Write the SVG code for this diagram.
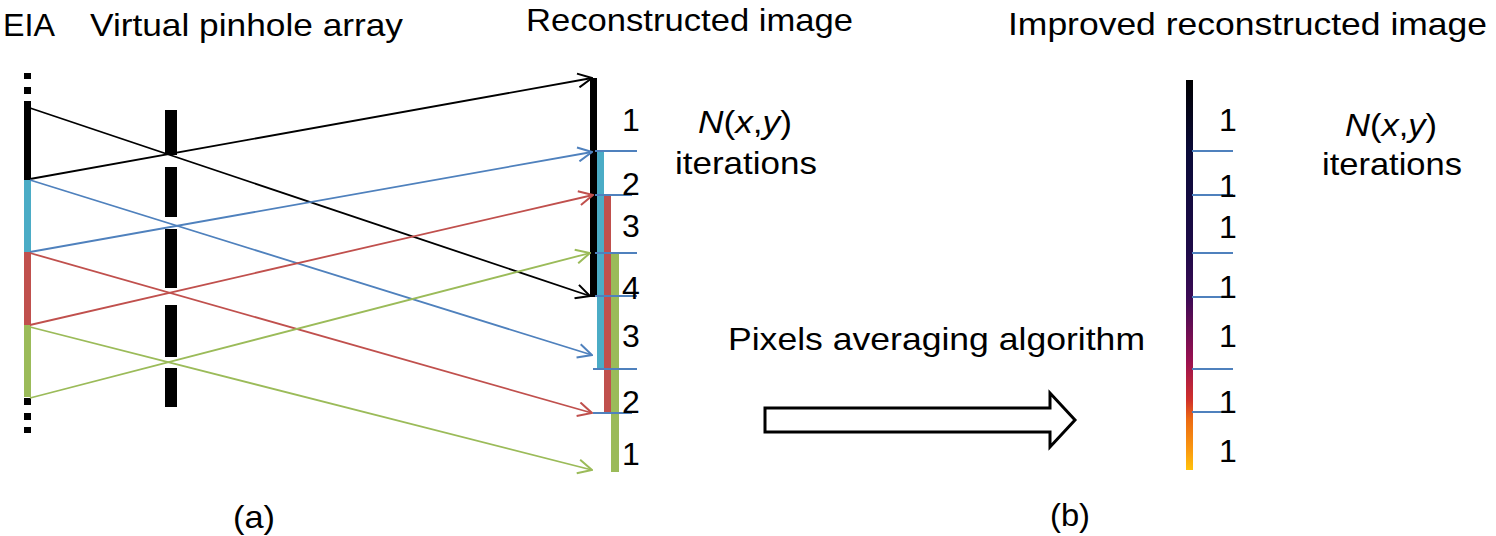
<svg xmlns="http://www.w3.org/2000/svg" width="1496" height="536" viewBox="0 0 1496 536">
<style>
text{font-family:"Liberation Sans",Arial,sans-serif;font-size:32px;fill:#000}
.num{font-size:32px}
.ray{fill:none;stroke-width:1.8}
.k{stroke:#000}
.b{stroke:#4f81bd}
.r{stroke:#c0504d}
.g{stroke:#9bbb59}
.tick{stroke:#4f81bd;stroke-width:2}
</style>
<defs>
<marker id="ak" viewBox="0 0 16 16" refX="15" refY="8" markerWidth="16" markerHeight="16" markerUnits="userSpaceOnUse" orient="auto"><path d="M1,1 L15,8 L1,15" fill="none" stroke="#000" stroke-width="2"/></marker>
<marker id="ab" viewBox="0 0 16 16" refX="15" refY="8" markerWidth="16" markerHeight="16" markerUnits="userSpaceOnUse" orient="auto"><path d="M1,1 L15,8 L1,15" fill="none" stroke="#4f81bd" stroke-width="2"/></marker>
<marker id="ar" viewBox="0 0 16 16" refX="15" refY="8" markerWidth="16" markerHeight="16" markerUnits="userSpaceOnUse" orient="auto"><path d="M1,1 L15,8 L1,15" fill="none" stroke="#c0504d" stroke-width="2"/></marker>
<marker id="ag" viewBox="0 0 16 16" refX="15" refY="8" markerWidth="16" markerHeight="16" markerUnits="userSpaceOnUse" orient="auto"><path d="M1,1 L15,8 L1,15" fill="none" stroke="#9bbb59" stroke-width="2"/></marker>
<linearGradient id="grad" x1="0" y1="0" x2="0" y2="1">
<stop offset="0" stop-color="#000000"/>
<stop offset="0.18" stop-color="#0a0a38"/>
<stop offset="0.44" stop-color="#1e0a48"/>
<stop offset="0.56" stop-color="#3c0a55"/>
<stop offset="0.72" stop-color="#9a1050"/>
<stop offset="0.82" stop-color="#d0302a"/>
<stop offset="0.87" stop-color="#ec6a12"/>
<stop offset="0.95" stop-color="#fa9a10"/>
<stop offset="1" stop-color="#ffc20a"/>
</linearGradient>
</defs>
<rect width="1496" height="536" fill="#fff"/>

<g id="titles">
<text x="3" y="36" textLength="52" lengthAdjust="spacingAndGlyphs">EIA</text>
<text x="90" y="36" textLength="313" lengthAdjust="spacingAndGlyphs">Virtual pinhole array</text>
<text x="526" y="31" textLength="327" lengthAdjust="spacingAndGlyphs">Reconstructed image</text>
<text x="1008" y="35" textLength="479" lengthAdjust="spacingAndGlyphs">Improved reconstructed image</text>
</g>

<g id="eia">
<rect x="24" y="73" width="7" height="6" fill="#000"/>
<rect x="24" y="87" width="7" height="7" fill="#000"/>
<rect x="24" y="101" width="7" height="79" fill="#000"/>
<rect x="24" y="180" width="7" height="72" fill="#4bacc6"/>
<rect x="24" y="252" width="7" height="73" fill="#c0504d"/>
<rect x="24" y="325" width="7" height="72" fill="#9bbb59"/>
<rect x="24" y="398" width="7" height="7" fill="#000"/>
<rect x="24" y="413" width="7" height="7" fill="#000"/>
<rect x="24" y="427" width="7" height="6" fill="#000"/>
</g>

<g id="pinhole-array" fill="#000">
<rect x="165" y="110" width="12" height="45"/>
<rect x="165" y="167" width="12" height="50"/>
<rect x="165" y="229" width="12" height="59"/>
<rect x="165" y="305" width="12" height="52"/>
<rect x="165" y="368" width="12" height="39"/>
</g>

<g id="reconstructed-image">
<rect x="590" y="78" width="7" height="219" fill="#000"/>
<rect x="597" y="152" width="7" height="217" fill="#4bacc6"/>
<rect x="604" y="196" width="7" height="216" fill="#c0504d"/>
<rect x="611" y="254" width="8" height="218" fill="#9bbb59"/>
<line class="tick" x1="595" y1="151" x2="637" y2="151"/>
<line class="tick" x1="595" y1="195" x2="632" y2="195"/>
<line class="tick" x1="595" y1="253" x2="637" y2="253"/>
<line class="tick" x1="595" y1="296" x2="637" y2="296"/>
<line class="tick" x1="593" y1="369" x2="637" y2="369"/>
<line class="tick" x1="593" y1="413" x2="632" y2="413"/>
<text class="num" x="622" y="131">1</text>
<text class="num" x="622" y="195">2</text>
<text class="num" x="622" y="237">3</text>
<text class="num" x="622" y="299">4</text>
<text class="num" x="622" y="347">3</text>
<text class="num" x="622" y="413">2</text>
<text class="num" x="622" y="465">1</text>
</g>

<g id="iterations-a">
<text x="698" y="133" textLength="94" lengthAdjust="spacingAndGlyphs"><tspan font-style="italic">N</tspan>(<tspan font-style="italic">x</tspan>,<tspan font-style="italic">y</tspan>)</text>
<text x="675" y="174" textLength="142" lengthAdjust="spacingAndGlyphs">iterations</text>
</g>

<g id="connectors">
<line class="ray k" x1="30" y1="108" x2="590" y2="296" marker-end="url(#ak)"/>
<line class="ray k" x1="30" y1="179" x2="592" y2="78" marker-end="url(#ak)"/>
<line class="ray b" x1="30" y1="180" x2="592" y2="355" marker-end="url(#ab)"/>
<line class="ray b" x1="30" y1="252" x2="592" y2="152" marker-end="url(#ab)"/>
<line class="ray r" x1="30" y1="253" x2="592" y2="413" marker-end="url(#ar)"/>
<line class="ray r" x1="30" y1="325" x2="593" y2="195" marker-end="url(#ar)"/>
<line class="ray g" x1="30" y1="327" x2="592" y2="470" marker-end="url(#ag)"/>
<line class="ray g" x1="30" y1="398" x2="590" y2="253" marker-end="url(#ag)"/>
</g>

<g id="averaging">
<text x="728" y="350" textLength="417" lengthAdjust="spacingAndGlyphs">Pixels averaging algorithm</text>
<path d="M765,408 L1050,408 L1050,393 L1075,420 L1050,447 L1050,432 L765,432 Z" fill="#fff" stroke="#000" stroke-width="3" stroke-linejoin="miter"/>
</g>

<g id="improved-image">
<rect x="1186" y="80" width="7" height="390" fill="url(#grad)"/>
<line class="tick" x1="1192" y1="151" x2="1233" y2="151"/>
<line class="tick" x1="1192" y1="195" x2="1233" y2="195"/>
<line class="tick" x1="1192" y1="253" x2="1233" y2="253"/>
<line class="tick" x1="1192" y1="297" x2="1233" y2="297" stroke-width="3"/>
<line class="tick" x1="1192" y1="369" x2="1233" y2="369"/>
<line class="tick" x1="1192" y1="412" x2="1233" y2="412"/>
<text class="num" x="1219" y="131">1</text>
<text class="num" x="1219" y="197">1</text>
<text class="num" x="1219" y="238">1</text>
<text class="num" x="1219" y="298">1</text>
<text class="num" x="1219" y="347">1</text>
<text class="num" x="1219" y="413">1</text>
<text class="num" x="1219" y="462">1</text>
</g>

<g id="iterations-b">
<text x="1345" y="136" textLength="92" lengthAdjust="spacingAndGlyphs"><tspan font-style="italic">N</tspan>(<tspan font-style="italic">x</tspan>,<tspan font-style="italic">y</tspan>)</text>
<text x="1322" y="175" textLength="140" lengthAdjust="spacingAndGlyphs">iterations</text>
</g>

<g id="captions">
<text x="233" y="528" textLength="42" lengthAdjust="spacingAndGlyphs">(a)</text>
<text x="1050" y="526" textLength="40" lengthAdjust="spacingAndGlyphs">(b)</text>
</g>
</svg>
